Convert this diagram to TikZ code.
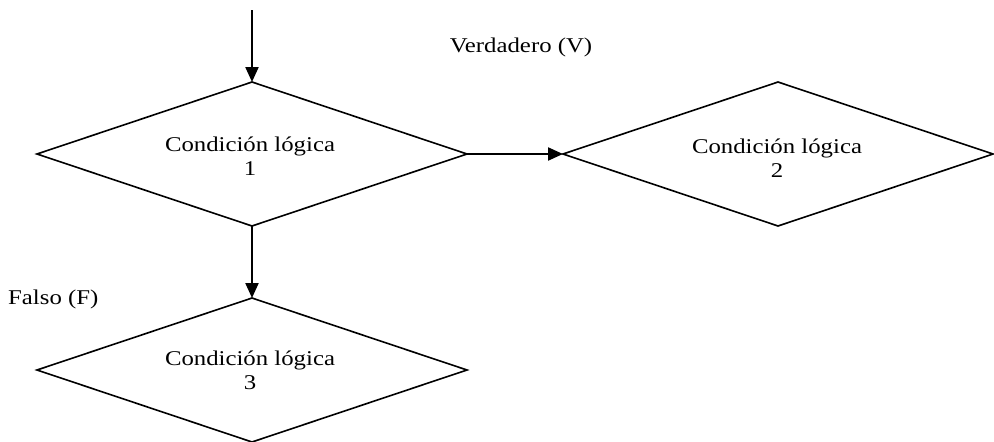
\documentclass[tikz,border=0pt]{standalone}
\usepackage{fontspec}
\setmainfont{Liberation Serif}[FakeStretch=1.18]
\usetikzlibrary{arrows.meta}
\begin{document}
\begin{tikzpicture}[x=1pt,y=-1pt,
  lbl/.style={font=\fontsize{21}{24}\selectfont, align=center, inner sep=0pt},
  arr/.style={line width=2.2pt, -{Triangle[length=15pt,width=13pt]}},
  dia/.style={line width=1.6pt, line join=miter}]
\useasboundingbox (0,0) rectangle (994,442);
% diamonds
\draw[dia] (37,154) coordinate (d1w) -- (252,82) coordinate (d1n) -- (467,154) coordinate (d1e) -- (252,226) coordinate (d1s) -- cycle;
\draw[dia] (563,154) coordinate (d2w) -- (778,82) coordinate (d2n) -- (993,154) coordinate (d2e) -- (778,226) coordinate (d2s) -- cycle;
\draw[dia] (37,370) coordinate (d3w) -- (252,298) coordinate (d3n) -- (467,370) coordinate (d3e) -- (252,442) coordinate (d3s) -- cycle;
\node[lbl] (t1) at (250,156) {Condición lógica\\1};
\node[lbl] (t2) at (777,158) {Condición lógica\\2};
\node[lbl] (t3) at (250,370) {Condición lógica\\3};
\node[lbl] (v) at (521,47) {Verdadero (V)};
\node[lbl, anchor=west] (f) at (8,299) {Falso (F)};
\coordinate (top) at (252,10);
\draw[arr] (top) -- (d1n);
\draw[arr] (d1e) -- (d2w);
\draw[arr] (d1s) -- (d3n);
\end{tikzpicture}
\end{document}
